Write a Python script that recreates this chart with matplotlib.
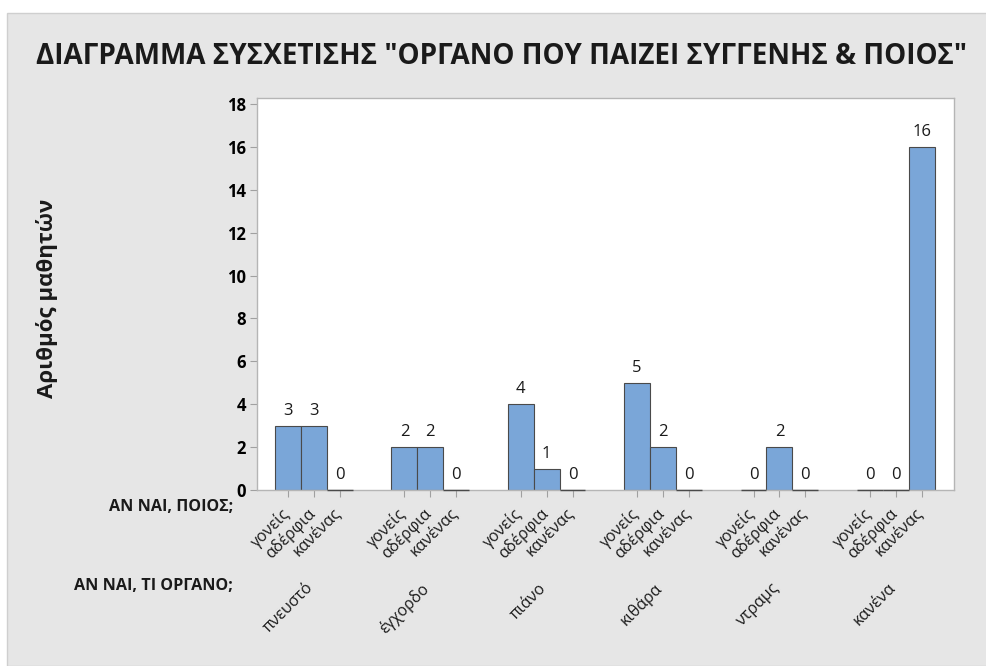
import matplotlib
matplotlib.use("Agg")
import matplotlib.pyplot as plt
from matplotlib.patches import Rectangle

instruments = ["πνευστό", "έγχορδο", "πιάνο", "κιθάρα", "ντραμς", "κανένα"]
who = ["γονείς", "αδέρφια", "κανένας"]
counts = [
    [3, 3, 0],
    [2, 2, 0],
    [4, 1, 0],
    [5, 2, 0],
    [0, 2, 0],
    [0, 0, 16],
]
yticks = [0, 2, 4, 6, 8, 10, 12, 14, 16, 18]
title = 'ΔΙΑΓΡΑΜΜΑ ΣΥΣΧΕΤΙΣΗΣ "ΟΡΓΑΝΟ ΠΟΥ ΠΑΙΖΕΙ ΣΥΓΓΕΝΗΣ & ΠΟΙΟΣ"'
ylabel = "Αριθμός μαθητών"
row1_label = "ΑΝ ΝΑΙ, ΠΟΙΟΣ;"
row2_label = "ΑΝ ΝΑΙ, ΤΙ ΟΡΓΑΝΟ;"

plt.rcParams['font.family'] = ['Open Sans', 'DejaVu Sans']

W, H = 987, 666
fig = plt.figure(figsize=(W / 100, H / 100), dpi=100)
fig.patch.set_facecolor('white')
bg = Rectangle((7 / W, 0), 1 - 7 / W, 1 - 13 / H, transform=fig.transFigure,
               facecolor='#e6e6e6', edgecolor='#cfcfcf', linewidth=1.0, zorder=-10)
fig.patches.append(bg)

ax = fig.add_axes([257 / W, (H - 490) / H, (954 - 257) / W, (490 - 98) / H])
ax.set_facecolor('white')

bar_color = '#7aa6d8'
edge_color = '#4a4a4a'
group_step = 4.5
positions = []
centers = []
for g, row in enumerate(counts):
    for j, v in enumerate(row):
        x = g * group_step + j
        positions.append(x)
        ax.bar(x, v, width=1.0, color=bar_color, edgecolor=edge_color, linewidth=0.8)
        if v == 0:
            ax.hlines(v, x - 0.5, x + 0.5, color=edge_color, linewidth=1.0,
                      clip_on=False, zorder=5)
        ax.annotate(str(v), xy=(x, v), xytext=(0, 7), textcoords='offset pixels',
                    ha='center', va='bottom', fontsize=12, color='#1a1a1a')
    centers.append(g * group_step + 1)

ax.set_xlim(-1.2, 5 * group_step + 2 + 1.25)
ax.set_ylim(0, 18.28)
ax.set_yticks(yticks)
ax.set_yticklabels([str(t) for t in yticks], fontweight='bold', fontsize=12)
ax.set_xticks(positions)
ax.set_xticklabels([])
ax.tick_params(axis='both', direction='out', length=5, color='#a0a0a0', width=0.8)
ax.tick_params(axis='y', pad=3)
for s in ax.spines.values():
    s.set_color('#b5b5b5')
    s.set_linewidth(1.0)

for g in range(len(counts)):
    for j, name in enumerate(who):
        x = g * group_step + j
        ax.annotate(name, xy=(x, 0), xycoords=('data', 'axes fraction'),
                    xytext=(5, -15), textcoords='offset pixels',
                    rotation=45, ha='right', va='top', fontsize=11.5, color='#1a1a1a')
    ax.annotate(instruments[g], xy=(centers[g], 0), xycoords=('data', 'axes fraction'),
                xytext=(3, -90), textcoords='offset pixels',
                rotation=45, ha='right', va='top', fontsize=11.5, color='#1a1a1a')

fig.text(233 / W, 1 - 507 / H, row1_label, ha='right', va='center',
         fontsize=11.6, fontweight='bold', color='#1a1a1a')
fig.text(233 / W, 1 - 586 / H, row2_label, ha='right', va='center',
         fontsize=11.6, fontweight='bold', color='#1a1a1a')

fig.text(47 / W, 1 - 298 / H, ylabel, rotation=90, ha='center', va='center',
         fontsize=16, fontweight='bold', color='#1a1a1a')

fig.text(502 / W, 1 - 57 / H, title, ha='center', va='center',
         fontsize=20.1, fontweight='bold', color='#1a1a1a')

fig.savefig('out.png', dpi=100, facecolor=fig.get_facecolor())
